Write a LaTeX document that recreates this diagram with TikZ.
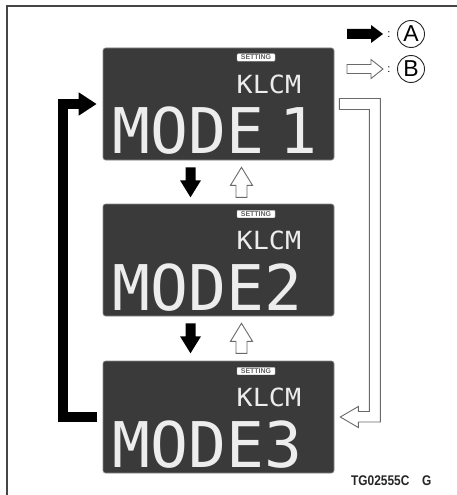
\documentclass[tikz,border=0pt]{standalone}
\usepackage{fontspec}
\setmainfont{Liberation Sans}
\newfontfamily\lcdfont{DejaVu Sans Mono}
\usetikzlibrary{arrows.meta,calc}
\definecolor{lcdbg}{HTML}{3A3A3A}
\definecolor{lcdfg}{HTML}{EDEDED}
\definecolor{outl}{HTML}{6A6A6A}
\definecolor{framec}{HTML}{454545}
\begin{document}
\begin{tikzpicture}[x=1pt,y=-1pt,
  screen/.style={draw=lcdbg!60!white, line width=0.6pt, fill=lcdbg, rounded corners=2.5pt,
    minimum width=231pt, minimum height=112pt, inner sep=0pt},
  bigtxt/.style={text=lcdfg, font=\lcdfont\fontsize{63}{63}\selectfont, inner sep=0pt, anchor=base west},
  midtxt/.style={text=lcdfg, font=\lcdfont\fontsize{25}{25}\selectfont, inner sep=0pt, anchor=base west, xscale=1.07},
  badge/.style={fill=white, draw=lcdbg!40!white, line width=0.4pt, rounded corners=1pt, minimum width=38pt,
    minimum height=7.5pt, inner sep=0pt, text=lcdbg!80!white, font=\bfseries\fontsize{7}{7}\selectfont},
  blkdown/.pic={\fill[black] (-5,-15) -- (-5,-2) -- (-10.5,-2) -- (0,15) -- (10.5,-2) -- (5,-2) -- (5,-15) -- cycle;},
  whtup/.pic={\draw[outl, fill=white, line width=0.9pt, line join=miter] (-5.5,15) -- (-5.5,3) -- (-11,3) -- (0,-15) -- (11,3) -- (5.5,3) -- (5.5,15) -- cycle;},
  circlbl/.style={draw=black!85, circle, minimum size=27pt, inner sep=0pt, line width=0.9pt, font=\fontsize{23}{23}\selectfont},
]
\useasboundingbox (0,0) rectangle (457,495);
\fill[white] (0,0) rectangle (457,495);
\draw[framec, line width=1.3pt] (7,497) -- (7,6) -- (459,6);

% screens
\node[screen] (s1) at (218.5,104) {};
\node[screen] (s2) at (218.5,260) {};
\node[screen] (s3) at (218.5,417) {};

\node[badge] (b1) at ($(s1.center)+(37.5,-46.5)$) {SETTING};
\node[badge] (b2) at ($(s2.center)+(37.5,-46)$) {SETTING};
\node[badge] (b3) at ($(s3.center)+(37.5,-46)$) {SETTING};

\node[midtxt] (k1) at ($(s1.center)+(18,-11)$) {KLCM};
\node[midtxt] (k2) at ($(s2.center)+(18,-10.5)$) {KLCM};
\node[midtxt] (k3) at ($(s3.center)+(18,-10.5)$) {KLCM};

\node[bigtxt] (m1) at ($(s1.center)+(-106,49.5)$) {MODE\kern-0.36em\ 1};
\node[bigtxt] (m2) at ($(s2.center)+(-106,50.5)$) {MODE2};
\node[bigtxt] (m3) at ($(s3.center)+(-106,50.5)$) {MODE3};

% arrows between screens
\path (s1.south) ++(-28,22) pic {blkdown};
\path (s1.south) ++(23,22) pic {whtup};
\path (s2.south) ++(-28,22) pic {blkdown};
\path (s2.south) ++(23,22) pic {whtup};

% black loop from screen 3 back to screen 1
\draw[black, line width=10pt, -{Triangle[length=18pt,width=22pt]}]
  ([xshift=-6pt]s3.west) -- ++(-34,0) |- ([xshift=-6pt]s1.west);

% white loop from screen 1 to screen 3
\draw[outl, fill=white, line width=0.9pt, line join=miter]
  ([shift={(5,-5.5)}]s1.east) -- ++(41,0) -- ++(0,323.5) -- ++(-22,0) -- ++(0,5.5)
  -- ++(-18,-10.5) -- ++(18,-10.5) -- ++(0,5) -- ++(11,0) -- ++(0,-302) -- ++(-30,0) -- cycle;

% legend
\node[circlbl] (la) at (411,34) {A};
\node[circlbl] (lb) at (411,69) {B};
\node[font=\fontsize{11}{11}\selectfont, inner sep=0pt] (ca) at (389,35) {:};
\node[font=\fontsize{11}{11}\selectfont, inner sep=0pt] (cb) at (389,70) {:};
\fill[black] ($(la.center)+(-64,-5)$) -- ++(24,0) -- ++(0,-4) -- ++(12,9) -- ++(-12,9) -- ++(0,-4) -- ++(-24,0) -- cycle;
\draw[outl, fill=white, line width=0.9pt] ($(lb.center)+(-64,-4.5)$) -- ++(24,0) -- ++(0,-5) -- ++(12,9.5) -- ++(-12,9.5) -- ++(0,-5) -- ++(-24,0) -- cycle;

% code label
\node[font=\bfseries\fontsize{14}{14}\selectfont, text=black!85, anchor=base west, inner sep=0pt, xscale=0.85]
  (code) at (351,485) {TG02555C\hspace{15pt}G};
\end{tikzpicture}
\end{document}
